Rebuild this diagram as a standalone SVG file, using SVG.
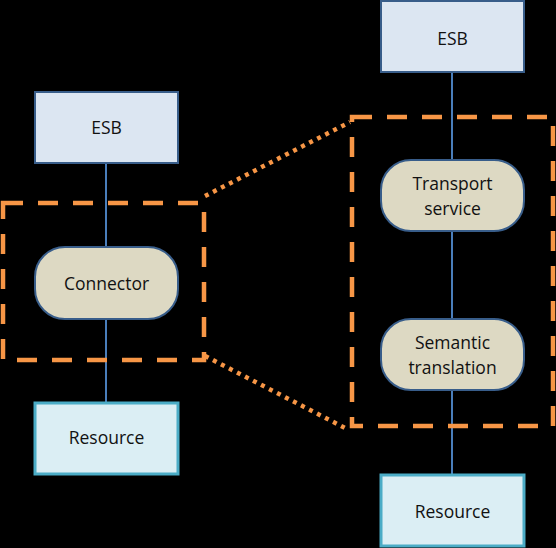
<svg xmlns="http://www.w3.org/2000/svg" width="556" height="548" viewBox="0 0 556 548">
<style>
.esb{fill:#dce6f2;stroke:#385d8a;stroke-width:2}
.proc{fill:#ddd9c3;stroke:#385d8a;stroke-width:2}
.res{fill:#dbeef4;stroke:#4bacc6;stroke-width:3}
.link{stroke:#4a7ebb;stroke-width:2;fill:none}
.dash{fill:none;stroke:#f79646;stroke-width:4.5;stroke-dasharray:20 15}
.dot{fill:none;stroke:#f79646;stroke-width:4.5;stroke-dasharray:4 5}
text{font-family:"Open Sans","Liberation Sans",sans-serif;font-size:17.5px;fill:#111;text-anchor:middle}
</style>
<rect width="556" height="548" fill="#000"/>
<g id="connectors">
<line class="link" x1="106" y1="163" x2="106" y2="403"/>
<line class="link" x1="452" y1="72" x2="452" y2="475"/>
</g>
<g id="zoom-left"><rect class="dash" x="3" y="203" width="201" height="157"/></g>
<g id="zoom-right"><rect class="dash" x="352" y="117" width="201" height="309"/></g>
<g id="zoom-lines">
<line class="dot" x1="205" y1="196" x2="350" y2="122"/>
<line class="dot" x1="205" y1="356" x2="349" y2="430"/>
</g>
<g id="esb-left"><rect class="esb" x="35" y="92" width="143" height="71"/><text x="106.5" y="134">ESB</text></g>
<g id="connector"><rect class="proc" x="35" y="247" width="143" height="72" rx="30"/><text x="106.5" y="290">Connector</text></g>
<g id="resource-left"><rect class="res" x="35" y="403" width="143" height="71"/><text x="106.5" y="444">Resource</text></g>
<g id="esb-right"><rect class="esb" x="381" y="1" width="143" height="71"/><text x="452.5" y="45">ESB</text></g>
<g id="transport"><rect class="proc" x="381" y="160" width="143" height="71" rx="30"/><text x="452.5" y="190">Transport</text><text x="452.5" y="215">service</text></g>
<g id="semantic"><rect class="proc" x="381" y="319" width="143" height="71" rx="30"/><text x="452.5" y="349">Semantic</text><text x="452.5" y="374">translation</text></g>
<g id="resource-right"><rect class="res" x="381" y="475" width="143" height="71"/><text x="452.5" y="518">Resource</text></g>
</svg>
